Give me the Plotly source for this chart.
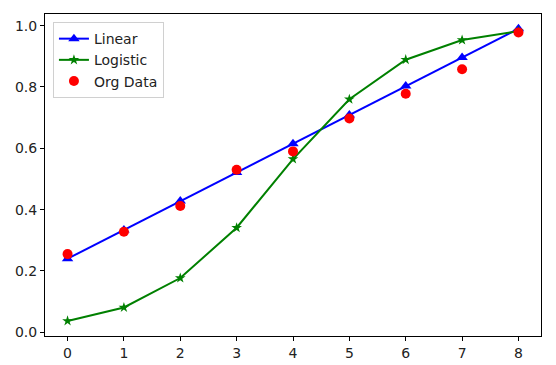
import plotly.graph_objects as go

x_vals = [0, 1, 2, 3, 4, 5, 6, 7, 8]
linear_vals = [0.240, 0.334, 0.428, 0.521, 0.615, 0.709, 0.803, 0.896, 0.990]
logistic_vals = [0.037, 0.081, 0.177, 0.341, 0.565, 0.760, 0.889, 0.953, 0.982]
org_vals = [0.255, 0.328, 0.412, 0.530, 0.590, 0.697, 0.778, 0.858, 0.978]

fig = go.Figure()
fig.add_trace(go.Scatter(x=x_vals, y=linear_vals, mode="lines+markers", name="Linear",
                         line=dict(color="blue", width=2),
                         marker=dict(symbol="triangle-up", size=10, color="blue")))
fig.add_trace(go.Scatter(x=x_vals, y=logistic_vals, mode="lines+markers", name="Logistic",
                         line=dict(color="green", width=2),
                         marker=dict(symbol="star", size=8, color="green")))
fig.add_trace(go.Scatter(x=x_vals, y=org_vals, mode="markers", name="Org Data",
                         marker=dict(symbol="circle", size=10, color="red")))

axis_common = dict(showgrid=False, zeroline=False, showline=True, linecolor="black",
                   linewidth=1, mirror=True, ticks="outside", ticklen=4, tickcolor="black",
                   automargin=False,
                   tickfont=dict(family="DejaVu Sans", size=14, color="#222"))
fig.update_layout(
    width=548, height=357,
    margin=dict(l=37, r=15, t=6, b=29),
    paper_bgcolor="white", plot_bgcolor="white",
    showlegend=True,
    legend=dict(x=0.016, y=0.975, xanchor="left", yanchor="top",
                bordercolor="#d0d0d0", borderwidth=1, bgcolor="rgba(255,255,255,0.8)",
                font=dict(family="DejaVu Sans", size=14, color="#222"),
                tracegroupgap=0, itemwidth=30),
    xaxis=dict(range=[-0.4, 8.4], tickmode="array", tickvals=x_vals,
               ticktext=[str(v) for v in x_vals], **axis_common),
    yaxis=dict(range=[-0.012, 1.038], tickmode="array",
               tickvals=[0.0, 0.2, 0.4, 0.6, 0.8, 1.0],
               ticktext=["0.0", "0.2", "0.4", "0.6", "0.8", "1.0"], **axis_common),
)
fig.write_html("out.html")
